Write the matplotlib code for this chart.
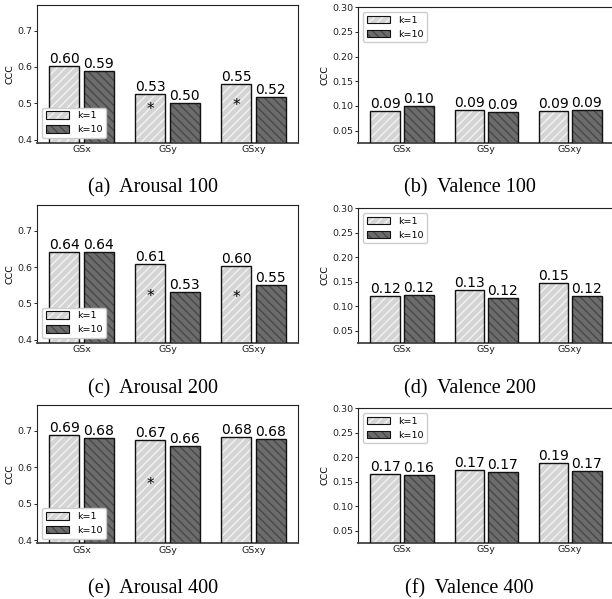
import numpy as np
import matplotlib
matplotlib.use('Agg')
import matplotlib.pyplot as plt
from matplotlib.patches import Patch
from matplotlib.legend_handler import HandlerTuple

groups = ['GSx', 'GSy', 'GSxy']
series_names = ['k=1', 'k=10']

arousal100_k1 = [0.603, 0.527, 0.553]
arousal100_k10 = [0.588, 0.502, 0.517]
arousal100_star = [None, 0.482, 0.493]

valence100_k1 = [0.090, 0.0926, 0.090]
valence100_k10 = [0.1007, 0.0873, 0.0914]

arousal200_k1 = [0.641, 0.609, 0.603]
arousal200_k10 = [0.6425, 0.532, 0.552]
arousal200_star = [None, 0.519, 0.516]

valence200_k1 = [0.1213, 0.133, 0.147]
valence200_k10 = [0.123, 0.1166, 0.1214]

arousal400_k1 = [0.689, 0.674, 0.684]
arousal400_k10 = [0.681, 0.659, 0.679]
arousal400_star = [None, 0.552, None]

valence400_k1 = [0.166, 0.1743, 0.1884]
valence400_k10 = [0.164, 0.1696, 0.1728]

captions = ['(a)  Arousal 100', '(b)  Valence 100',
            '(c)  Arousal 200', '(d)  Valence 200',
            '(e)  Arousal 400', '(f)  Valence 400']

W, H = 612, 599
fig = plt.figure(figsize=(W / 100, H / 100), dpi=100)

def rect(x0, x1, ytop, ybot):
    return [x0 / W, 1 - ybot / H, (x1 - x0) / W, (ybot - ytop) / H]

panels = [
    dict(k1=arousal100_k1, k10=arousal100_k10, star=arousal100_star, kind='a',
         rect=rect(37, 298, 4.7, 142.7)),
    dict(k1=valence100_k1, k10=valence100_k10, star=None, kind='v',
         rect=rect(358.3, 616, 7.3, 142.7)),
    dict(k1=arousal200_k1, k10=arousal200_k10, star=arousal200_star, kind='a',
         rect=rect(37, 298, 205, 342.7)),
    dict(k1=valence200_k1, k10=valence200_k10, star=None, kind='v',
         rect=rect(358.3, 616, 208.3, 342.7)),
    dict(k1=arousal400_k1, k10=arousal400_k10, star=arousal400_star, kind='a',
         rect=rect(37, 298, 405, 543.3)),
    dict(k1=valence400_k1, k10=valence400_k10, star=None, kind='v',
         rect=rect(358.3, 616, 408.3, 542.7)),
]

plt.rcParams['hatch.linewidth'] = 1.0
c1_face, c1_hatch = '#d4d4d4', '#f2f2f2'
c2_face, c2_hatch = '#6c6c6c', '#484848'
edge = '#111111'
x = np.arange(len(groups))
off, bw = 0.2, 0.35

for p in panels:
    ax = fig.add_axes(p['rect'])
    # keep same horizontal scale for valence panels (axes extend past the edge)
    for vals, dx, fc, hc, hatch in [(p['k1'], -off, c1_face, c1_hatch, '////'),
                                     (p['k10'], off, c2_face, c2_hatch, '\\\\\\\\')]:
        ax.bar(x + dx, vals, bw, color=fc, edgecolor=hc, hatch=hatch, linewidth=0, zorder=2)
        ax.bar(x + dx, vals, bw, fill=False, edgecolor=edge, linewidth=1.0, zorder=3)
        for xi, v in zip(x + dx, vals):
            ax.text(xi, v, f'{v:.2f}', ha='center', va='bottom', fontsize=10, zorder=4)
    if p['star'] is not None:
        for xi, s in zip(x - off, p['star']):
            if s is not None:
                ax.text(xi, s, '*', ha='center', va='center', fontsize=11, zorder=4)
    if p['kind'] == 'a':
        ax.set_xlim(-0.52, 2.52)
        ax.set_ylim(0.392, 0.771)
        ax.set_yticks([0.4, 0.5, 0.6, 0.7])
        ax.set_yticklabels(['0.4', '0.5', '0.6', '0.7'])
        loc = 'lower left'
    else:
        ax.set_xlim(-0.52, 2.545)
        ax.set_ylim(0.0255, 0.30)
        ax.set_yticks([0.05, 0.10, 0.15, 0.20, 0.25, 0.30])
        ax.set_yticklabels(['0.05', '0.10', '0.15', '0.20', '0.25', '0.30'])
        loc = 'upper left'
    ax.set_xticks(x)
    ax.set_xticklabels(groups)
    ax.tick_params(axis='x', length=0, pad=2, labelsize=6.8, labelcolor='#222222')
    ax.tick_params(axis='y', length=2, width=0.6, pad=1.5, labelsize=6.8, labelcolor='#222222')
    ax.set_ylabel('CCC', fontsize=6.8, labelpad=2)
    for s in ['left', 'top', 'right']:
        ax.spines[s].set_linewidth(0.8)
        ax.spines[s].set_color('#222222')
    ax.spines['bottom'].set_linewidth(1.3)
    ax.spines['bottom'].set_color('#444444')
    h1 = (Patch(facecolor=c1_face, edgecolor=c1_hatch, hatch='////', linewidth=0),
          Patch(fill=False, edgecolor=edge, linewidth=0.8))
    h2 = (Patch(facecolor=c2_face, edgecolor=c2_hatch, hatch='\\\\\\\\', linewidth=0),
          Patch(fill=False, edgecolor=edge, linewidth=0.8))
    ax.legend([h1, h2], series_names, loc=loc, fontsize=6.8,
              handler_map={tuple: HandlerTuple(ndivide=1)},
              handlelength=2.5, handleheight=0.85, borderaxespad=0.5,
              framealpha=1.0, edgecolor='#cccccc', fancybox=True)

cap_pos = [(153, 188), (469.5, 188), (153, 389), (469.5, 389), (153, 589), (469.5, 589)]
for (cx, cy), t in zip(cap_pos, captions):
    fig.text(cx / W, 1 - cy / H, t, ha='center', va='center', fontsize=14.5,
             family='Liberation Serif')

fig.savefig('out.png', dpi=100)
